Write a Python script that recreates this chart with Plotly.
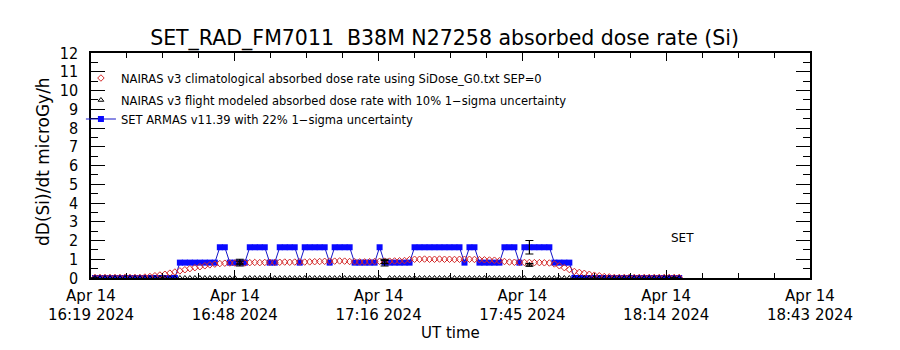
import pandas as pd
import plotly.graph_objects as go

# ---- data ----
start_time = "2024-04-14 16:20"
n_points = 118
times = pd.date_range(start_time, periods=n_points, freq="min")

nairas_clim = (
    [0.03] * 10
    + [0.05, 0.08, 0.12, 0.16, 0.20, 0.26, 0.32, 0.38, 0.44, 0.50, 0.55, 0.60, 0.65, 0.70, 0.74, 0.77]
    + [0.79, 0.80, 0.80, 0.81, 0.80, 0.82, 0.83, 0.82, 0.83, 0.84, 0.83, 0.84, 0.85, 0.84, 0.85]
    + [0.86, 0.85, 0.86, 0.87, 0.88, 0.89, 0.90, 0.90, 0.91, 0.90, 0.88, 0.87, 0.86, 0.86, 0.87,
       0.88, 0.89, 0.90, 0.90, 0.91, 0.92, 0.93]
    + [0.98, 1.00, 1.00, 1.01, 1.00, 1.00, 1.01, 1.00, 1.00, 0.99, 1.00, 1.00, 1.00, 0.99, 0.98,
       0.97, 0.96, 0.95, 0.92]
    + [0.88, 0.85, 0.84, 0.84, 0.83, 0.83, 0.82, 0.82, 0.81, 0.80]
    + [0.75, 0.65, 0.55, 0.45, 0.35, 0.30, 0.25, 0.20, 0.15, 0.12, 0.08, 0.06]
    + [0.03] * 14
)

armas = (
    [0.0] * 17 + [0.82] * 8 + [1.64] * 2 + [0.82] * 4 + [1.64] * 4 + [0.82] * 2
    + [1.64] * 4 + [0.82] + [1.64] * 5 + [0.82] + [1.64] * 4 + [0.82] * 5 + [1.64]
    + [0.82] * 6 + [1.64] * 10 + [0.82] + [1.64] * 2 + [0.82] * 5 + [1.64] * 3
    + [0.82] + [1.64] * 6 + [0.82] * 4 + [0.0] * 22
)

flight_model = [0.0] * n_points
flight_model[29] = 0.82
flight_model[58] = 0.85
flight_model[87] = 0.70

errbar_idx = [0, 29, 58, 87, 116]
armas_rel_err = 0.22
flight_rel_err = 0.10

legend_labels = [
    "NAIRAS v3 climatological absorbed dose rate using SiDose_G0.txt SEP=0",
    "NAIRAS v3 flight modeled absorbed dose rate with 10% 1\u2212sigma uncertainty",
    "SET ARMAS v11.39 with 22% 1\u2212sigma uncertainty",
]
title_text = "SET_RAD_FM7011  B38M N27258 absorbed dose rate (Si)"
x_range = ["2024-04-14 16:19:12", "2024-04-14 18:43:12"]
x_tick0 = "2024-04-14 16:19:12"
x_dtick_ms = 28.8 * 60 * 1000
x_minor_dtick_ms = 7.2 * 60 * 1000
y_range = [0, 12]

FONT = "DejaVu Sans"
NARROW = "Liberation Sans Narrow, DejaVu Sans Condensed, Liberation Sans"
RED = "#d42a2a"
BLUE = "#0a0aff"

fig = go.Figure()

# SET ARMAS
fig.add_trace(go.Scatter(
    x=times, y=armas, mode="lines+markers", name=legend_labels[2],
    line=dict(color="#1414c8", width=1),
    marker=dict(symbol="square", size=6, color=BLUE, line=dict(width=0)),
    legend="legend3",
))
# NAIRAS climatological
fig.add_trace(go.Scatter(
    x=times, y=nairas_clim, mode="markers", name=legend_labels[0],
    marker=dict(symbol="diamond-open", size=5, color=RED, line=dict(width=1, color=RED)),
    legend="legend",
))
# NAIRAS flight modeled
fig.add_trace(go.Scatter(
    x=times, y=flight_model, mode="markers", name=legend_labels[1],
    marker=dict(symbol="triangle-up-open", size=5, color="black", line=dict(width=1, color="black")),
    legend="legend2",
))
# error bars (every 29th sample)
fig.add_trace(go.Scatter(
    x=[times[i] for i in errbar_idx], y=[armas[i] for i in errbar_idx], mode="markers",
    marker=dict(size=1, color="rgba(0,0,0,0)"), showlegend=False,
    error_y=dict(type="data", array=[armas[i] * armas_rel_err for i in errbar_idx],
                 color="black", thickness=1.2, width=4),
))
fig.add_trace(go.Scatter(
    x=[times[i] for i in errbar_idx], y=[flight_model[i] for i in errbar_idx], mode="markers",
    marker=dict(size=1, color="rgba(0,0,0,0)"), showlegend=False,
    error_y=dict(type="data", array=[flight_model[i] * flight_rel_err for i in errbar_idx],
                 color="black", thickness=1.2, width=4),
))

L, R, T, B = 91, 90, 53, 72
fig.update_layout(
    width=900, height=350,
    margin=dict(l=L, r=R, t=T, b=B),
    paper_bgcolor="white", plot_bgcolor="white",
    font=dict(family=FONT, color="black"),
    title=dict(text=title_text, x=0.494, xref="container", xanchor="center",
               y=1 - 38 / 350, yref="container", yanchor="middle",
               font=dict(family=FONT, size=20.5, color="black")),
)

legend_common = dict(xanchor="left", yanchor="middle", bgcolor="rgba(0,0,0,0)",
                     borderwidth=0, itemwidth=30, font=dict(family=FONT, size=11.5, color="black"))
fig.update_layout(
    legend=dict(x=-0.014, y=(278 - 78) / 225, **legend_common),
    legend2=dict(x=-0.014, y=(278 - 100) / 225, **legend_common),
    legend3=dict(x=-0.014, y=(278 - 119) / 225, **legend_common),
)

fig.update_xaxes(
    type="date", range=x_range, tickmode="linear", tick0=x_tick0, dtick=x_dtick_ms,
    tickformat="%b %d<br>%H:%M %Y", ticks="inside", ticklen=8, tickwidth=1, tickcolor="black",
    showline=True, linecolor="black", linewidth=1.5, mirror="ticks",
    showgrid=False, zeroline=False, ticklabelstandoff=3,
    tickfont=dict(family=FONT, size=15, color="black"),
    minor=dict(ticks="inside", ticklen=5, tickcolor="black", tick0=x_tick0, dtick=x_minor_dtick_ms,
               showgrid=False),
)
fig.update_yaxes(
    range=y_range, tickmode="linear", tick0=0, dtick=1, ticks="inside", ticklen=14, tickwidth=1,
    tickcolor="black", showline=True, linecolor="black", linewidth=1.5, mirror="ticks",
    showgrid=False, zeroline=False, ticklabelstandoff=8,
    tickfont=dict(family=NARROW, size=16, color="black"),
    minor=dict(ticks="inside", ticklen=7, tickcolor="black", dtick=0.5, showgrid=False),
)

fig.add_annotation(text="UT time", xref="paper", yref="paper", x=(450 - 91) / 719,
                   y=-(333 - 278) / 225, showarrow=False, xanchor="center", yanchor="middle",
                   font=dict(family=FONT, size=15, color="black"))
fig.add_annotation(text="dD(Si)/dt microGy/h", xref="paper", yref="paper", x=(43 - 91) / 719,
                   y=(278 - 162) / 225, showarrow=False, textangle=-90, xanchor="center",
                   yanchor="middle", font=dict(family=FONT, size=17, color="black"))
fig.add_annotation(text="SET", xref="paper", yref="paper", x=(682 - 91) / 719,
                   y=(278 - 238) / 225, showarrow=False, xanchor="center", yanchor="middle",
                   font=dict(family=FONT, size=12, color="black"))

fig.write_html("out.html")
